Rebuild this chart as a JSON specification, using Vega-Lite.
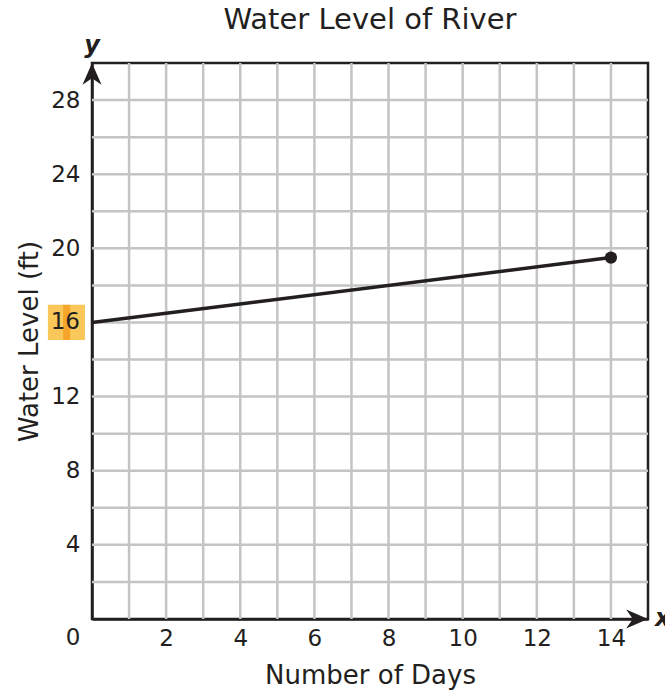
{
  "$schema": "https://vega.github.io/schema/vega-lite/v6.json",
  "width": 556,
  "height": 556,
  "autosize": {"type": "none"},
  "padding": {"left": 92, "top": 63, "right": 17, "bottom": 73},
  "title": {"text": "Water Level of River", "fontSize": 29, "font": "DejaVu Sans", "fontWeight": "normal", "color": "#231f20", "offset": -1},
  "config": {
    "view": {"stroke": "#231f20", "strokeWidth": 2.5},
    "font": "DejaVu Sans"
  },
  "layer": [
    {
      "data": {"values": [{"g": 1}, {"g": 2}, {"g": 3}, {"g": 4}, {"g": 5}, {"g": 6}, {"g": 7}, {"g": 8}, {"g": 9}, {"g": 10}, {"g": 11}, {"g": 12}, {"g": 13}, {"g": 14}]},
      "mark": {"type": "rule", "color": "#c4c4c4", "strokeWidth": 2.5},
      "encoding": {
        "x": {"field": "g", "type": "quantitative", "scale": {"domain": [0, 15], "nice": false}}
      }
    },
    {
      "data": {"values": [{"g": 2}, {"g": 4}, {"g": 6}, {"g": 8}, {"g": 10}, {"g": 12}, {"g": 14}, {"g": 16}, {"g": 18}, {"g": 20}, {"g": 22}, {"g": 24}, {"g": 26}, {"g": 28}]},
      "mark": {"type": "rule", "color": "#c4c4c4", "strokeWidth": 2.5},
      "encoding": {
        "y": {"field": "g", "type": "quantitative", "scale": {"domain": [0, 30], "nice": false}}
      }
    },
    {
      "data": {"values": [{"x0": -1.19, "x1": -0.19, "y0": 15.05, "y1": 16.95}]},
      "mark": {"type": "rect", "color": "#FAC85A"},
      "encoding": {
        "x": {"field": "x0", "type": "quantitative"},
        "x2": {"field": "x1"},
        "y": {"field": "y0", "type": "quantitative"},
        "y2": {"field": "y1"}
      }
    },
    {
      "data": {"values": [{"x0": -0.78, "x1": -0.59, "y0": 15.05, "y1": 16.95}]},
      "mark": {"type": "rect", "color": "#F4A52A"},
      "encoding": {
        "x": {"field": "x0", "type": "quantitative"},
        "x2": {"field": "x1"},
        "y": {"field": "y0", "type": "quantitative"},
        "y2": {"field": "y1"}
      }
    },
    {
      "data": {"values": [{"day": 0, "level": 16}, {"day": 14, "level": 19.5}]},
      "mark": {"type": "line", "color": "#231f20", "strokeWidth": 3.5},
      "encoding": {
        "x": {
          "field": "day", "type": "quantitative",
          "axis": {
            "values": [0,2,4,6,8,10,12,14],
            "labelExpr": "datum.value > 0 ? datum.label : ''",
            "labelOverlap": false,
            "grid": false,
            "title": "Number of Days", "titleFontSize": 26, "titleFontWeight": "normal", "titleColor": "#231f20", "titlePadding": 12,
            "labelFontSize": 23, "labelColor": "#231f20", "labelPadding": 8,
            "ticks": false, "domainColor": "#231f20", "domainWidth": 2.5
          }
        },
        "y": {
          "field": "level", "type": "quantitative",
          "axis": {
            "values": [4,8,12,20,24,28],
            "labelOverlap": false,
            "grid": false,
            "title": "Water Level (ft)", "titleFontSize": 26, "titleFontWeight": "normal", "titleColor": "#231f20", "titlePadding": 8,
            "labelFontSize": 23, "labelColor": "#231f20", "labelPadding": 12,
            "ticks": false, "domainColor": "#231f20", "domainWidth": 2.5
          }
        }
      }
    },
    {
      "data": {"values": [{"day": 14, "level": 19.5}]},
      "mark": {"type": "point", "filled": true, "color": "#231f20", "size": 150, "opacity": 1},
      "encoding": {
        "x": {"field": "day", "type": "quantitative"},
        "y": {"field": "level", "type": "quantitative"}
      }
    },
    {
      "data": {"values": [{"x": 0, "y": 30}]},
      "mark": {"type": "point", "filled": true, "color": "#231f20", "opacity": 1, "size": 361, "shape": "M0,0L-1,2.3L0,1.6L1,2.3Z"},
      "encoding": {
        "x": {"field": "x", "type": "quantitative"},
        "y": {"field": "y", "type": "quantitative"}
      }
    },
    {
      "data": {"values": [{"x": 15, "y": 0}]},
      "mark": {"type": "point", "filled": true, "color": "#231f20", "opacity": 1, "size": 361, "shape": "M0,0L-2.3,-1L-1.6,0L-2.3,1Z"},
      "encoding": {
        "x": {"field": "x", "type": "quantitative"},
        "y": {"field": "y", "type": "quantitative"}
      }
    },
    {
      "data": {"values": [{"x": 0, "y": 16, "t": "16"}]},
      "mark": {"type": "text", "align": "right", "baseline": "middle", "dx": -12, "fontSize": 23, "color": "#231f20"},
      "encoding": {
        "x": {"field": "x", "type": "quantitative"},
        "y": {"field": "y", "type": "quantitative"},
        "text": {"field": "t"}
      }
    },
    {
      "data": {"values": [{"x": 0, "y": 0, "t": "0"}]},
      "mark": {"type": "text", "align": "center", "baseline": "top", "dx": -19, "dy": 8, "fontSize": 23, "color": "#231f20"},
      "encoding": {
        "x": {"field": "x", "type": "quantitative"},
        "y": {"field": "y", "type": "quantitative"},
        "text": {"field": "t"}
      }
    },
    {
      "data": {"values": [{"x": 0, "y": 30, "t": "y"}]},
      "mark": {"type": "text", "align": "center", "baseline": "middle", "dx": 0, "dy": -17, "fontSize": 24, "fontWeight": "bold", "fontStyle": "italic", "color": "#231f20"},
      "encoding": {
        "x": {"field": "x", "type": "quantitative"},
        "y": {"field": "y", "type": "quantitative"},
        "text": {"field": "t"}
      }
    },
    {
      "data": {"values": [{"x": 15, "y": 0, "t": "x"}]},
      "mark": {"type": "text", "align": "left", "baseline": "middle", "dx": 7, "dy": 0, "fontSize": 24, "fontWeight": "bold", "fontStyle": "italic", "color": "#231f20"},
      "encoding": {
        "x": {"field": "x", "type": "quantitative"},
        "y": {"field": "y", "type": "quantitative"},
        "text": {"field": "t"}
      }
    }
  ]
}
